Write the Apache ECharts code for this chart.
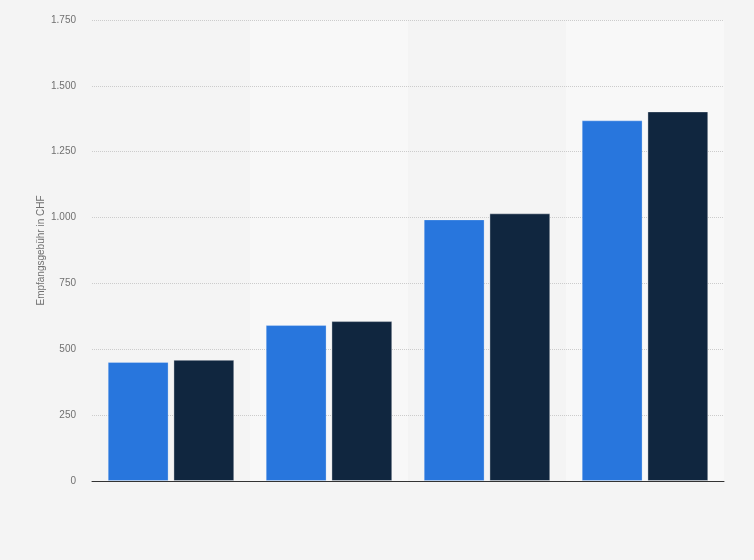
<!DOCTYPE html>
<html>
<head>
<meta charset="utf-8">
<script src="https://cdn.jsdelivr.net/npm/echarts@6/dist/echarts.min.js"></script>
<style>
  html, body { margin: 0; padding: 0; background: #f4f4f4; }
  #chart { width: 754px; height: 560px; }
</style>
</head>
<body>
<div id="chart"></div>
<script>
// categories are not labelled in the picture
const categories = ['1', '2', '3', '4'];
const seriesA = [452, 592, 993, 1369];
const seriesB = [460, 607, 1016, 1403];
const yTicks = [0, 250, 500, 750, 1000, 1250, 1500, 1750];

const fmt = (v) => String(v).replace(/\B(?=(\d{3})+(?!\d))/g, '.');

const chart = echarts.init(document.getElementById('chart'));
chart.setOption({
    backgroundColor: '#f4f4f4',
    animation: false,
    grid: { left: 92, right: 30, top: 20, bottom: 79 },
    xAxis: [
        {
            // background bands only
            type: 'category',
            data: categories,
            position: 'bottom',
            z: 0,
            axisLine: { show: false },
            axisTick: { show: false },
            axisLabel: { show: false },
            splitArea: { show: true, areaStyle: { color: ['rgba(0,0,0,0)', '#f8f8f8'] } }
        },
        {
            // baseline on top of the grid lines
            type: 'category',
            data: categories,
            position: 'bottom',
            z: 2,
            axisLine: { lineStyle: { color: '#333333', width: 1 } },
            axisTick: { show: false },
            axisLabel: { show: false }
        }
    ],
    yAxis: {
        type: 'value',
        z: 1,
        min: yTicks[0],
        max: yTicks[yTicks.length - 1],
        interval: 250,
        name: 'Empfangsgebühr in CHF',
        nameLocation: 'middle',
        nameGap: 46,
        nameMoveOverlap: false,
        nameTextStyle: { color: '#707070', fontSize: 10, fontFamily: 'Liberation Sans' },
        axisLine: { show: false },
        axisTick: { show: false },
        axisLabel: {
            color: '#707070', fontSize: 10, fontFamily: 'Liberation Sans', margin: 16,
            formatter: fmt
        },
        splitLine: { lineStyle: { color: '#cccccc', type: [1, 1], width: 1 } }
    },
    series: [
        {
            type: 'bar',
            data: seriesA,
            barWidth: '38.5%',
            barGap: '8%',
            z: 3,
            itemStyle: { color: '#2876dd', borderColor: 'rgba(255,255,255,0.25)', borderWidth: 1 }
        },
        {
            type: 'bar',
            data: seriesB,
            barWidth: '38.5%',
            z: 3,
            itemStyle: { color: '#10263f', borderColor: 'rgba(255,255,255,0.35)', borderWidth: 1 }
        }
    ]
});
</script>
</body>
</html>
